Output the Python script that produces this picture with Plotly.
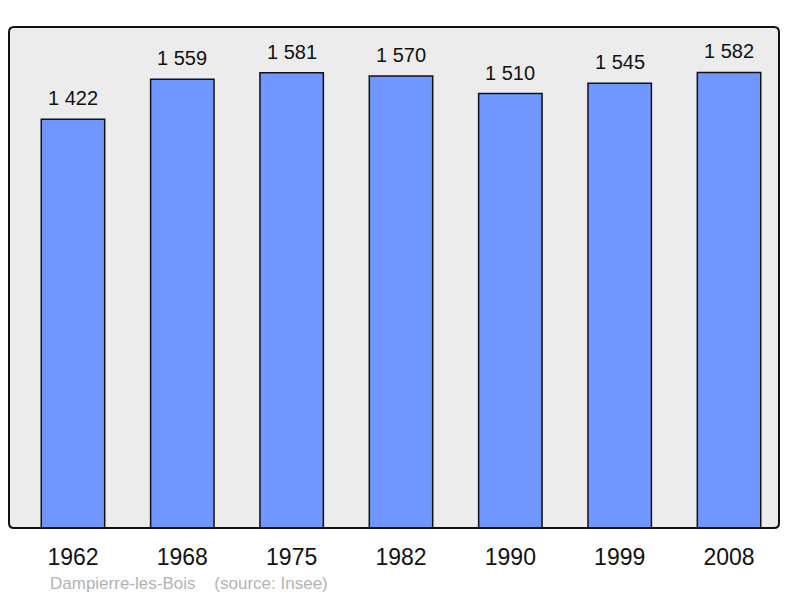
import plotly.graph_objects as go

years = ["1962", "1968", "1975", "1982", "1990", "1999", "2008"]
population = [1422, 1559, 1581, 1570, 1510, 1545, 1582]
value_labels = ["1 422", "1 559", "1 581", "1 570", "1 510", "1 545", "1 582"]
town = "Dampierre-les-Bois"
source = "(source: Insee)"

xs = list(range(len(years)))

fig = go.Figure()
fig.add_trace(go.Bar(
    x=xs, y=population, width=0.58,
    marker=dict(color="#7097ff", line=dict(color="#111111", width=1.5)),
    hoverinfo="skip",
))

for x, v, t in zip(xs, population, value_labels):
    fig.add_annotation(x=x, y=v, text=t, showarrow=False, yanchor="bottom",
                       yshift=8, font=dict(size=20, color="#111111",
                                           family="Liberation Sans, Arial, sans-serif"))

# rounded plot border
rx, ry = 5 / 770, 5 / 501
path = (f"M {rx},0 L {1-rx},0 Q 1,0 1,{ry} L 1,{1-ry} Q 1,1 {1-rx},1 "
        f"L {rx},1 Q 0,1 0,{1-ry} L 0,{ry} Q 0,0 {rx},0 Z")
fig.add_shape(type="path", xref="paper", yref="paper", path=path,
              line=dict(color="#111111", width=2), layer="above")

fig.add_annotation(xref="paper", yref="paper", x=(48 - 9) / 770, y=-(583 - 528) / 501,
                   xanchor="left", yanchor="middle", showarrow=False,
                   text=f"{town}&nbsp;&nbsp;&nbsp;&nbsp;{source}",
                   font=dict(size=17, color="#b3b3b3",
                             family="Liberation Sans, Arial, sans-serif"))

fig.update_layout(
    width=792, height=590,
    margin=dict(l=1, r=21, t=19, b=70),
    paper_bgcolor="white", plot_bgcolor="#ececec",
    showlegend=False,
    font=dict(family="Liberation Sans, Arial, sans-serif", color="#111111"),
    xaxis=dict(range=[-0.585, 6.457], tickvals=xs, ticktext=years,
               showgrid=False, zeroline=False, ticks="outside", ticklen=8,
               tickcolor="rgba(0,0,0,0)", tickfont=dict(size=23)),
    yaxis=dict(range=[27, 1737], showgrid=False, zeroline=False,
               showticklabels=False),
)

fig.write_html("out.html")
